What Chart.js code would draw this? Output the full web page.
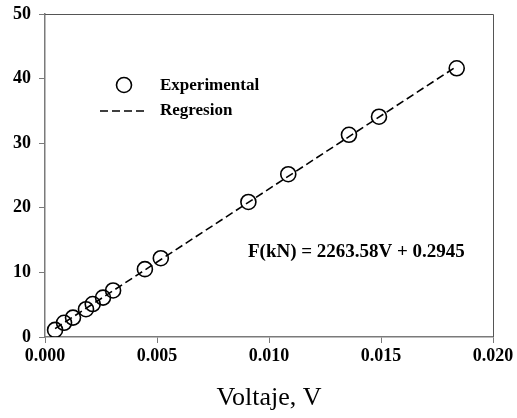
<!DOCTYPE html>
<html>
<head>
<meta charset="utf-8">
<script src="https://cdn.jsdelivr.net/npm/chart.js@4.4.0/dist/chart.umd.min.js"></script>
<style>
  html, body { margin: 0; padding: 0; background: #fff; }
  #wrap { width: 517px; height: 418px; }
</style>
</head>
<body>
<div id="wrap"><canvas id="chart" width="517" height="418"></canvas></div>
<script>
// values
const voltage = [0.00045, 0.00085, 0.00125, 0.00183, 0.00213, 0.00259, 0.00304, 0.00446, 0.00517, 0.00908, 0.01086, 0.01357, 0.01491, 0.01838];
const force = [1.1, 2.2, 3.0, 4.3, 5.1, 6.1, 7.2, 10.5, 12.2, 20.9, 25.2, 31.3, 34.1, 41.6];

// regression line end points
const reg_x = [0.00045, 0.01838];
const reg_y = [1.3, 41.9];

const x_ticks = [0, 0.005, 0.010, 0.015, 0.020];
const y_ticks = [0, 10, 20, 30, 40, 50];

const equation_text = 'F(kN) = 2263.58V + 0.2945';
const legend_labels = ['Experimental', 'Regresion'];
const x_title = 'Voltaje, V';

const serif = '"Liberation Serif", "Times New Roman", serif';
const axis_gray = '#7a7a7a';

// draws the frame, legend and equation inside the plot
const extras = {
  id: 'extras',
  afterDraw(chart) {
    const ctx = chart.ctx;
    const area = chart.chartArea;
    const xs = chart.scales.x, ys = chart.scales.y;
    ctx.save();

    // top and right frame
    ctx.strokeStyle = '#555';
    ctx.lineWidth = 1;
    ctx.beginPath();
    ctx.moveTo(area.left, area.top + 0.5);
    ctx.lineTo(area.right + 0.5, area.top + 0.5);
    ctx.lineTo(area.right + 0.5, area.bottom);
    ctx.stroke();

    // legend
    ctx.font = 'bold 17px ' + serif;
    ctx.fillStyle = '#000';
    ctx.textBaseline = 'middle';
    ctx.textAlign = 'left';
    ctx.lineWidth = 1.6;
    ctx.strokeStyle = '#000';
    ctx.beginPath();
    ctx.arc(124, 85, 7.5, 0, Math.PI * 2);
    ctx.stroke();
    ctx.fillText(legend_labels[0], 160, 86);

    ctx.setLineDash([8, 4]);
    ctx.beginPath();
    ctx.moveTo(100, 111);
    ctx.lineTo(148, 111);
    ctx.stroke();
    ctx.setLineDash([]);
    ctx.fillText(legend_labels[1], 160, 111);

    // equation
    ctx.font = 'bold 19px ' + serif;
    ctx.fillText(equation_text, xs.getPixelForValue(0.00906), ys.getPixelForValue(13.2));
    ctx.restore();
  }
};

const ctx = document.getElementById('chart').getContext('2d');

const chart = new Chart(ctx, {
  type: 'scatter',
  data: {
    datasets: [
      {
        label: legend_labels[0],
        data: voltage.map((v, i) => ({ x: v, y: force[i] })),
        pointStyle: 'circle',
        pointRadius: 7.5,
        pointBorderWidth: 1.6,
        pointBorderColor: '#000',
        pointBackgroundColor: 'rgba(0,0,0,0)',
        showLine: false,
        order: 2
      },
      {
        label: legend_labels[1],
        data: reg_x.map((v, i) => ({ x: v, y: reg_y[i] })),
        showLine: true,
        borderColor: '#000',
        borderWidth: 1.6,
        borderDash: [8, 4],
        pointRadius: 0,
        fill: false,
        order: 1
      }
    ]
  },
  options: {
    responsive: false,
    animation: false,
    layout: { padding: { left: 0, right: 24, top: 14, bottom: 0 } },
    plugins: {
      legend: { display: false },
      tooltip: { enabled: false }
    },
    scales: {
      x: {
        type: 'linear',
        min: 0,
        max: 0.02,
        afterBuildTicks: axis => { axis.ticks = x_ticks.map(v => ({ value: v })); },
        afterFit: axis => { axis.height = 81; axis.paddingLeft = 0; axis.paddingRight = 0; },
        ticks: {
          color: '#000',
          font: { family: serif, size: 18, weight: 'bold' },
          padding: 3,
          maxRotation: 0,
          callback: v => v.toFixed(3)
        },
        grid: { drawOnChartArea: false, tickLength: 6, color: axis_gray, lineWidth: 1 },
        border: { color: axis_gray, width: 1.5 },
        title: {
          display: true,
          text: x_title,
          color: '#000',
          font: { family: serif, size: 26 },
          padding: { top: 10 }
        }
      },
      y: {
        type: 'linear',
        min: 0,
        max: 50,
        afterBuildTicks: axis => { axis.ticks = y_ticks.map(v => ({ value: v })); },
        afterFit: axis => { axis.width = 45; axis.paddingTop = 0; axis.paddingBottom = 0; },
        ticks: {
          color: '#000',
          font: { family: serif, size: 18, weight: 'bold' },
          padding: 8
        },
        grid: { drawOnChartArea: false, tickLength: 6, color: axis_gray, lineWidth: 1 },
        border: { color: axis_gray, width: 1.5 }
      }
    }
  },
  plugins: [extras]
});
</script>
</body>
</html>
